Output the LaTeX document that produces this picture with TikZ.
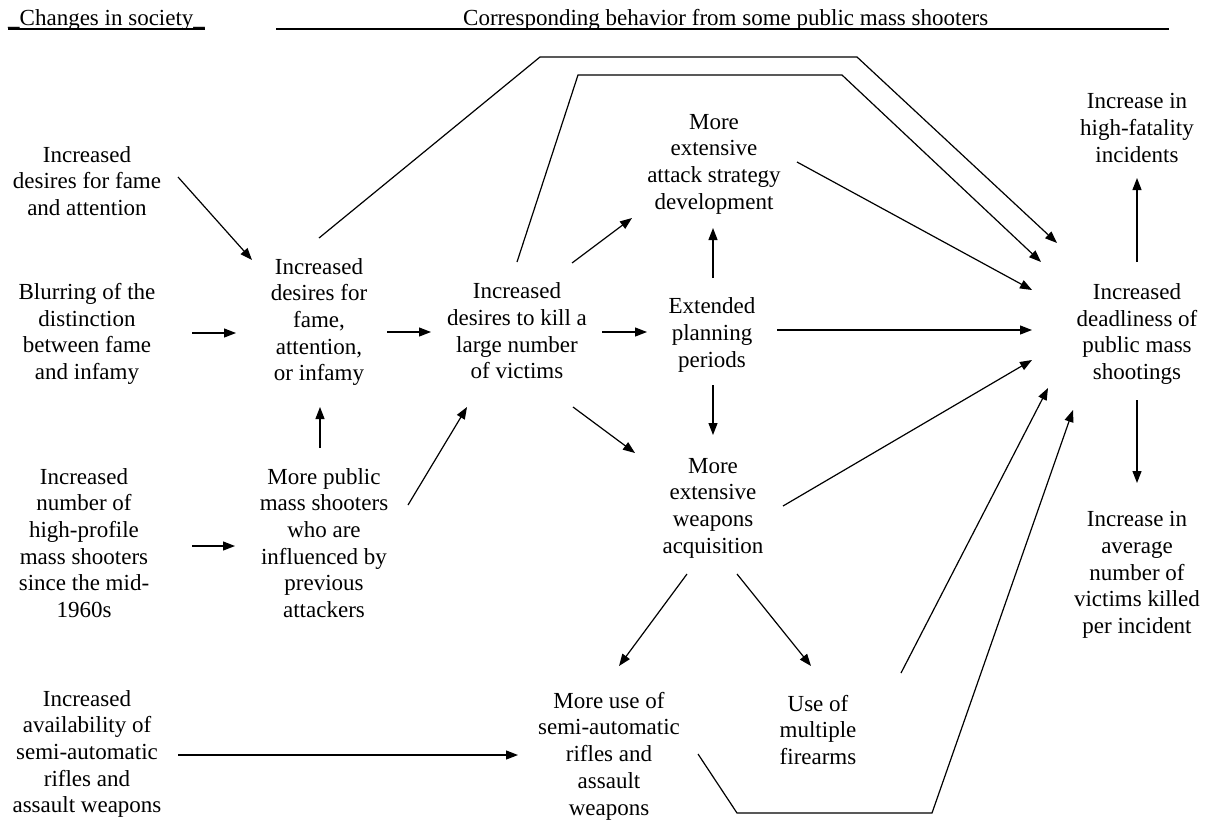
\documentclass[tikz,border=0pt]{standalone}
\usepackage{fontspec}
\setmainfont{Liberation Serif}
\usetikzlibrary{arrows.meta}
\begin{document}
\begin{tikzpicture}[x=1pt,y=-1pt,
  lbl/.style={align=center, inner sep=0pt, font=\fontsize{23}{26.7}\selectfont},
  hdr/.style={inner sep=0pt, anchor=base west, font=\fontsize{23}{26.7}\selectfont},
  conn/.style={line width=1.2pt, line join=miter},
  arr/.style={conn, -{Triangle[length=12pt,width=9pt]}},
  rulestyle/.style={line width=1.3pt}]
\useasboundingbox[fill=white] (0,0) rectangle (1207,820);

% headers
\node[hdr] (H1) at (8,25) {\_Changes in society\_};
\draw[rulestyle] ([yshift=-4pt]H1.base west) -- ([yshift=-4pt]H1.base east);
\node[hdr] (H2) at (463,25) {Corresponding behavior from some public mass shooters};
\coordinate (H2l) at (276,29);
\coordinate (H2r) at (1169,29);
\draw[rulestyle] (H2l) -- (H2r);

% column 1
\node[lbl] (A1) at (87,181) {Increased\\desires for fame\\and attention};
\node[lbl] (A2) at (87,334) {Blurring of the\\distinction\\between fame\\and infamy};
\node[lbl] (A3) at (84,543) {Increased\\number of\\high-profile\\mass shooters\\since the mid-\\1960s};
\node[lbl] (A4) at (87,754) {Increased\\availability of\\semi-automatic\\rifles and\\assault weapons};

% column 2
\node[lbl] (B1) at (319,322) {Increased\\desires for\\fame,\\attention,\\or infamy};
\node[lbl] (B2) at (324,543) {More public\\mass shooters\\who are\\influenced by\\previous\\attackers};

% column 3
\node[lbl] (C1) at (517,331) {Increased\\desires to kill a\\large number\\of victims};

% column 4
\node[lbl] (D1) at (714,164) {More\\extensive\\attack strategy\\development};
\node[lbl] (D2) at (712,335) {Extended\\planning\\periods};
\node[lbl] (D3) at (713,508) {More\\extensive\\weapons\\acquisition};
\node[lbl] (E1) at (609,756) {More use of\\semi-automatic\\rifles and\\assault\\weapons};
\node[lbl] (E2) at (818,730) {Use of\\multiple\\firearms};

% right column
\node[lbl] (F1) at (1137,128) {Increase in\\high-fatality\\incidents};
\node[lbl] (F2) at (1137,334) {Increased\\deadliness of\\public mass\\shootings};
\node[lbl] (F3) at (1137,575) {Increase in\\average\\number of\\victims killed\\per incident};

% connector end points
\coordinate (A1o) at (178,177);  \coordinate (B1a) at (252,260);
\coordinate (A2o) at (192,333);  \coordinate (B1b) at (236,333);
\coordinate (A3o) at (192,546);  \coordinate (B2a) at (235,546);
\coordinate (A4o) at (178,755);  \coordinate (E1a) at (518,755);
\coordinate (B2o) at (320,448);  \coordinate (B1c) at (320,407);
\coordinate (B1o) at (387,332);  \coordinate (C1a) at (431,332);
\coordinate (B2p) at (408,505);  \coordinate (C1b) at (467,407);
\coordinate (B1t) at (319,238);  \coordinate (R1a) at (540,57);
\coordinate (R1b) at (857,57);   \coordinate (F2a) at (1057,243);
\coordinate (C1t) at (517,262);  \coordinate (R2a) at (578,75);
\coordinate (R2b) at (842,75);   \coordinate (F2b) at (1041,262);
\coordinate (C1u) at (572,263);  \coordinate (D1a) at (632,218);
\coordinate (C1o) at (602,332);  \coordinate (D2a) at (647,332);
\coordinate (C1d) at (573,407);  \coordinate (D3a) at (635,453);
\coordinate (D2u) at (713,278);  \coordinate (D1b) at (713,228);
\coordinate (D2d) at (713,385);  \coordinate (D3b) at (713,435);
\coordinate (D1o) at (797,162);  \coordinate (F2c) at (1032,290);
\coordinate (D2o) at (777,330);  \coordinate (F2d) at (1032,330);
\coordinate (D3o) at (783,506);  \coordinate (F2e) at (1032,360);
\coordinate (D3l) at (687,574);  \coordinate (E1b) at (619,666);
\coordinate (D3r) at (737,574);  \coordinate (E2a) at (811,666);
\coordinate (E2o) at (901,673);  \coordinate (F2f) at (1048,388);
\coordinate (E1o) at (698,754);  \coordinate (R3a) at (737,813);
\coordinate (R3b) at (932,813);  \coordinate (F2g) at (1073,410);
\coordinate (F2u) at (1137,262); \coordinate (F1a) at (1137,178);
\coordinate (F2w) at (1137,400); \coordinate (F3a) at (1137,483);

% connectors
\draw[arr] (A1o) -- (B1a);
\draw[arr] (A2o) -- (B1b);
\draw[arr] (A3o) -- (B2a);
\draw[arr] (A4o) -- (E1a);
\draw[arr] (B2o) -- (B1c);
\draw[arr] (B1o) -- (C1a);
\draw[arr] (B2p) -- (C1b);
\draw[arr] (B1t) -- (R1a) -- (R1b) -- (F2a);
\draw[arr] (C1t) -- (R2a) -- (R2b) -- (F2b);
\draw[arr] (C1u) -- (D1a);
\draw[arr] (C1o) -- (D2a);
\draw[arr] (C1d) -- (D3a);
\draw[arr] (D2u) -- (D1b);
\draw[arr] (D2d) -- (D3b);
\draw[arr] (D1o) -- (F2c);
\draw[arr] (D2o) -- (F2d);
\draw[arr] (D3o) -- (F2e);
\draw[arr] (D3l) -- (E1b);
\draw[arr] (D3r) -- (E2a);
\draw[arr] (E2o) -- (F2f);
\draw[arr] (E1o) -- (R3a) -- (R3b) -- (F2g);
\draw[arr] (F2u) -- (F1a);
\draw[arr] (F2w) -- (F3a);
\end{tikzpicture}
\end{document}
